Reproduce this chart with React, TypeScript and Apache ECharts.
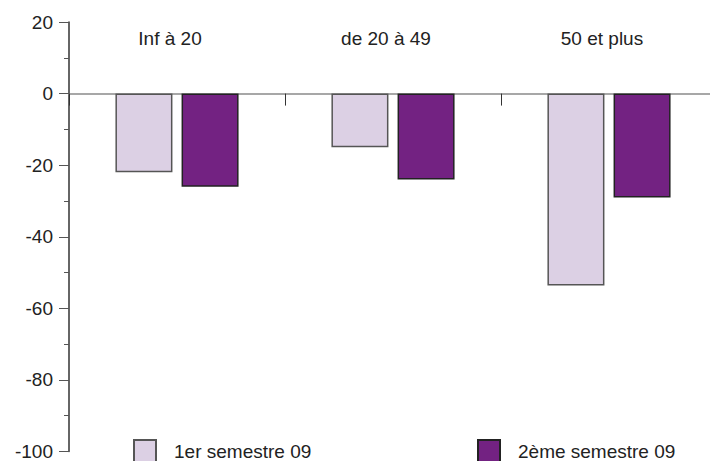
import React, { useEffect, useRef } from "react";
import * as echarts from "echarts";

const categories = ["Inf à 20", "de 20 à 49", "50 et plus"];
const seriesNames = ["1er semestre 09", "2ème semestre 09"];
const semestre1 = [-22, -15, -53.6];
const semestre2 = [-26, -24, -29];
const yMin = -100;
const yMax = 20;
const yInterval = 20;

const FONT = "'Liberation Sans', Arial, sans-serif";
const LIGHT = "#dcd0e4";
const DARK = "#732282";

export default function App() {
  const ref = useRef<HTMLDivElement>(null);
  useEffect(() => {
    document.body.style.margin = "0";
    const chart = echarts.init(ref.current!, null, { renderer: "svg" });
    const legendCommon = {
      top: 439,
      padding: 0,
      itemWidth: 22,
      itemHeight: 22,
      icon: "rect",
      textStyle: { fontSize: 19, color: "#222", fontFamily: FONT, padding: [0, 0, 0, 13] },
    };
    chart.setOption({
      animation: false,
      backgroundColor: "#ffffff",
      textStyle: { fontFamily: FONT },
      grid: { left: 69, top: 22, bottom: 7, right: 1, containLabel: false },
      legend: [
        { ...legendCommon, data: [seriesNames[0]], left: 133 },
        { ...legendCommon, data: [seriesNames[1]], left: 477 },
      ],
      xAxis: [
        {
          type: "category",
          data: categories,
          position: "bottom",
          axisLine: { show: true, onZero: true, lineStyle: { color: "#8a8a8a", width: 1.5 } },
          axisTick: { show: true, length: 12, lineStyle: { color: "#333", width: 1 } },
          axisLabel: { show: false },
          splitLine: { show: false },
        },
        {
          type: "category",
          data: categories,
          position: "top",
          axisLine: { show: false, onZero: false },
          axisTick: { show: false },
          axisLabel: {
            show: true,
            inside: true,
            margin: 7,
            fontSize: 19,
            color: "#222",
            fontFamily: FONT,
            padding: [0, 14, 0, 0],
          },
          splitLine: { show: false },
        },
      ],
      yAxis: {
        type: "value",
        min: yMin,
        max: yMax,
        interval: yInterval,
        axisLine: { show: true, onZero: false, lineStyle: { color: "#333", width: 1.5 } },
        axisTick: { show: true, length: 10, lineStyle: { color: "#555", width: 1 } },
        minorTick: { show: true, splitNumber: 2, length: 5, lineStyle: { color: "#555", width: 1 } },
        axisLabel: { fontSize: 19, color: "#222", margin: 16, fontFamily: FONT },
        splitLine: { show: false },
      },
      series: [
        {
          name: seriesNames[0],
          type: "bar",
          xAxisIndex: 0,
          data: semestre1,
          barWidth: 57,
          barGap: "16%",
          itemStyle: { color: LIGHT, borderColor: "#555", borderWidth: 1.5 },
        },
        {
          name: seriesNames[1],
          type: "bar",
          xAxisIndex: 0,
          data: semestre2,
          barWidth: 57,
          barGap: "16%",
          itemStyle: { color: DARK, borderColor: "#222", borderWidth: 1.5 },
        },
      ],
    });
    return () => chart.dispose();
  }, []);
  return (
    <div style={{ position: "fixed", left: 0, top: 0, width: 710, height: 461, overflow: "hidden" }}>
      <div ref={ref} style={{ width: 718, height: 461 }} />
    </div>
  );
}
